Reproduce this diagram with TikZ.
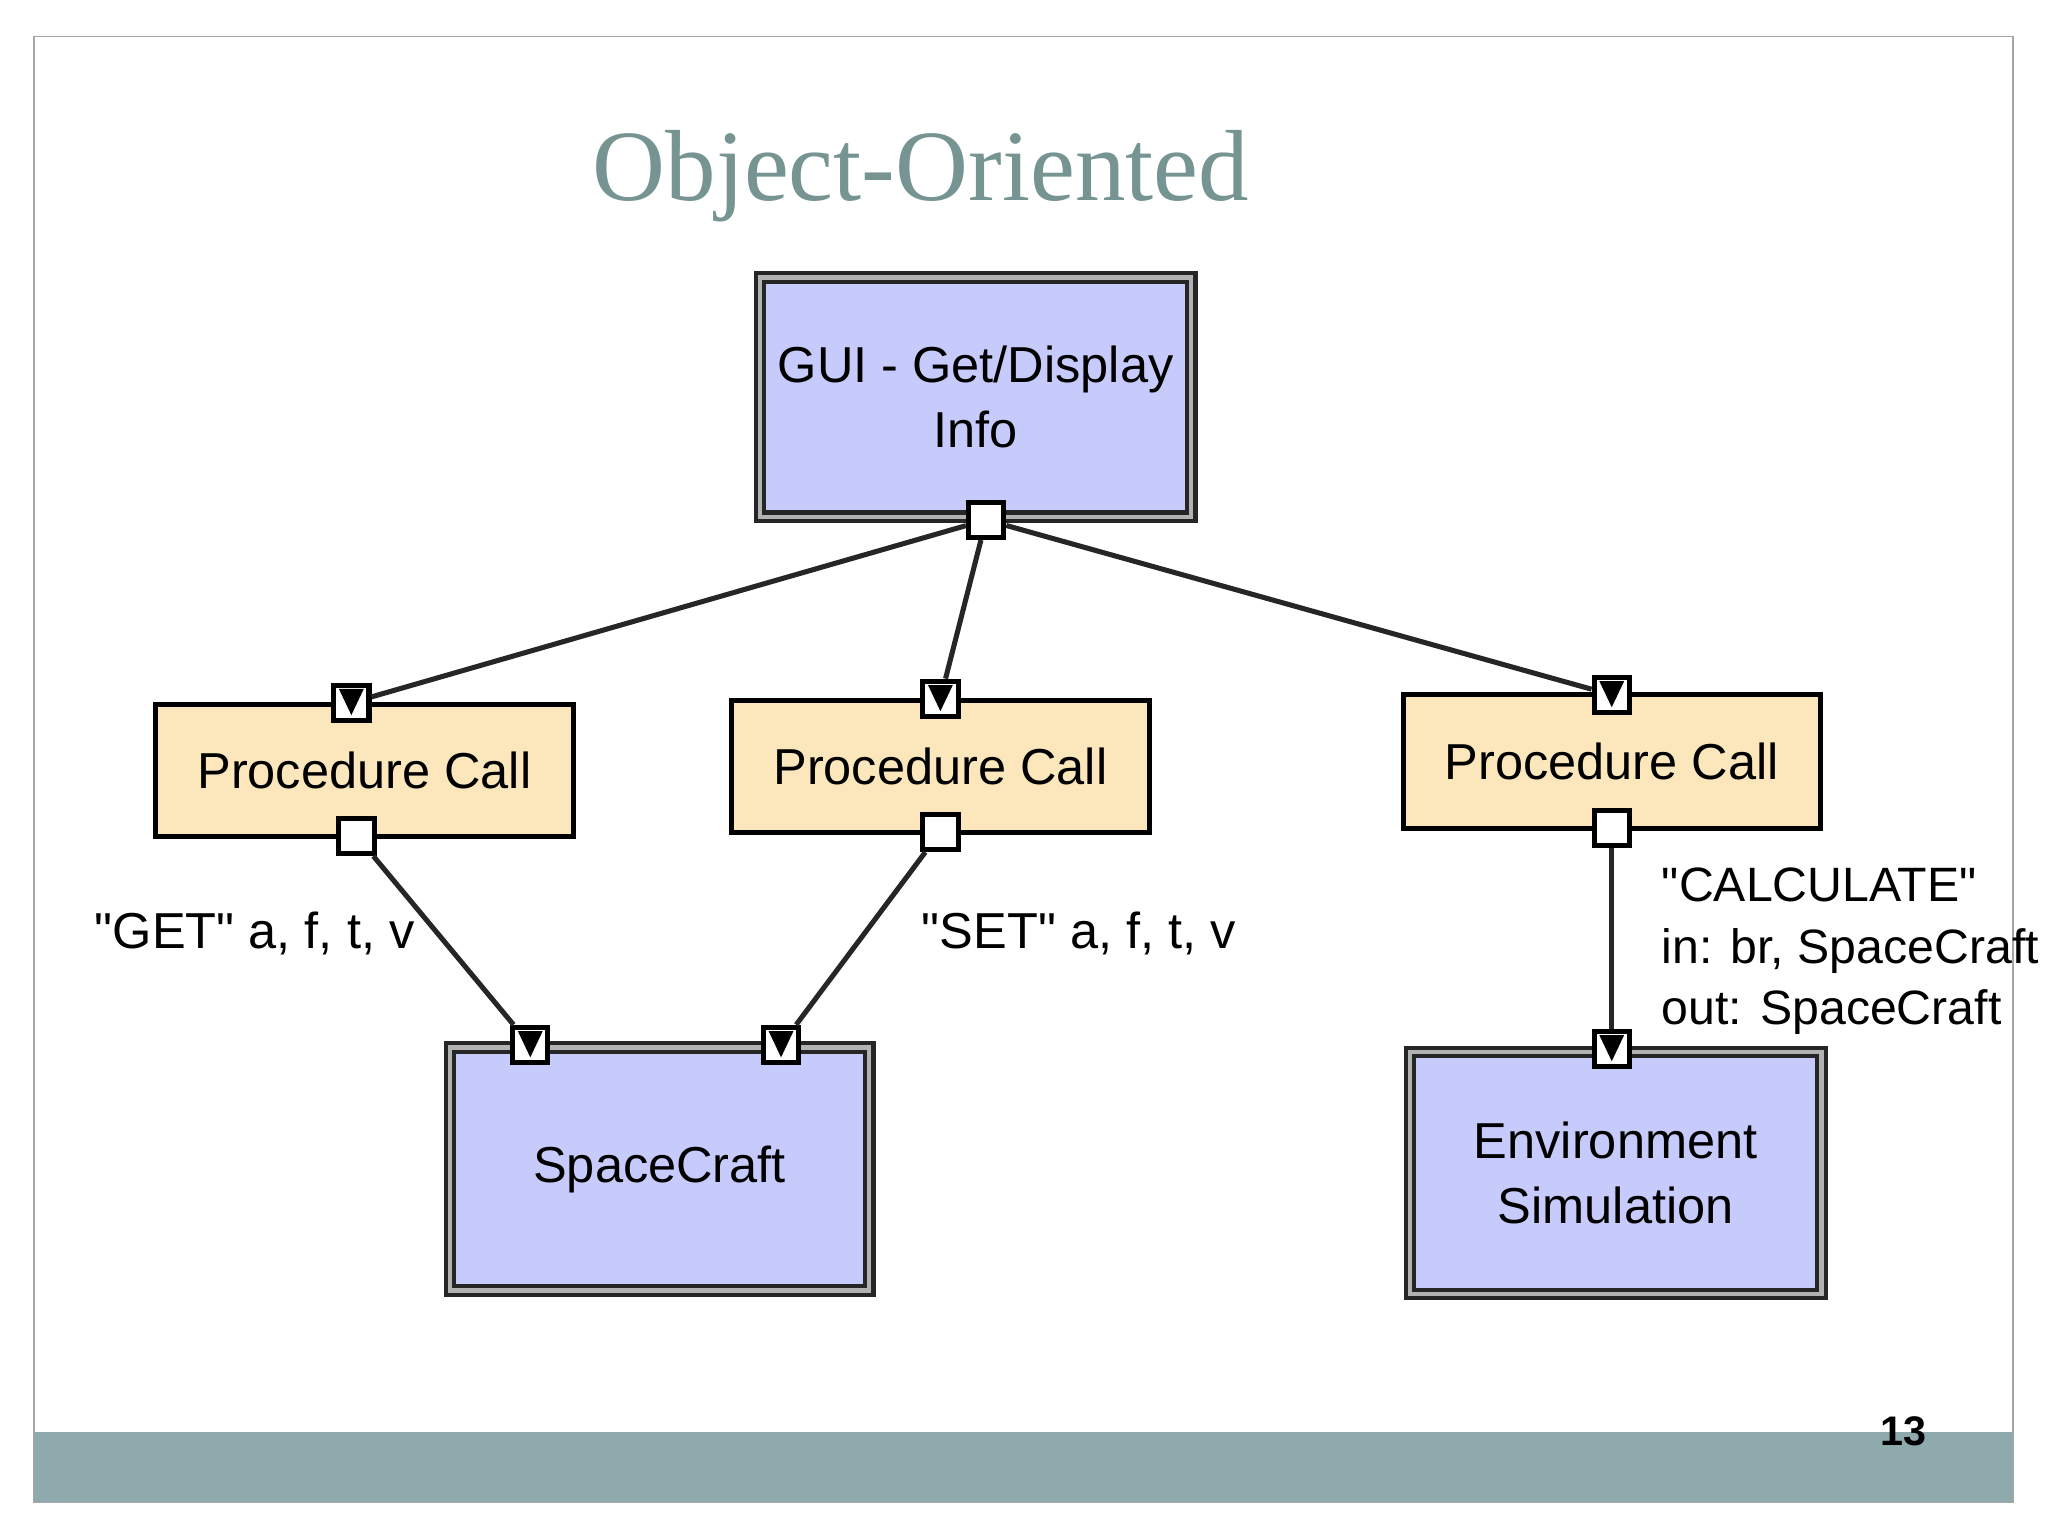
\documentclass[tikz,border=0pt]{standalone}
\usepackage{fontspec}
\setmainfont{Liberation Sans}
\newfontfamily\plainsans{Liberation Sans}
\newfontfamily\titlefont{Liberation Serif}
\definecolor{boxblue}{RGB}{199,203,251}
\definecolor{boxtan}{RGB}{251,231,187}
\definecolor{titlegrey}{RGB}{118,148,146}
\definecolor{bargrey}{RGB}{143,170,172}
\begin{document}
\begin{tikzpicture}[x=0.01cm, y=-0.01cm,
        module/.style={rectangle, draw=black!85, fill=boxblue, line width=0.9pt, double=black!30, double distance=0.9pt, align=center, font=\fontsize{11}{14}\selectfont},
        proc/.style={rectangle, draw=black, fill=boxtan, line width=1.1pt, font=\fontsize{11}{13}\selectfont},
        outport/.style={rectangle, draw=black, fill=white, line width=1.1pt, minimum size=0.27cm, inner sep=0pt},
        inport/.style={outport, path picture={\fill[black] ([xshift=0.04cm,yshift=-0.03cm]path picture bounding box.north west) -- ([xshift=-0.04cm,yshift=-0.03cm]path picture bounding box.north east) -- ([yshift=0.04cm]path picture bounding box.south) -- cycle;}},
        lbl/.style={font=\plainsans\fontsize{11}{13}\selectfont, align=left},
        link/.style={line width=1.1pt, black!85}]

        % Slide frame
        \useasboundingbox (0,0) rectangle (1568,1176);
        \fill[white] (0,0) rectangle (1568,1176);
        \draw[black!35] (26,28) rectangle (1541,1150);
        \fill[bargrey] (26,1096) rectangle (1541,1150);
        \node[font=\bfseries\fontsize{9}{10}\selectfont] (page) at (1457,1096) {13};
        \node[font=\titlefont\fontsize{22}{26}\selectfont, text=titlegrey] (title) at (705,135) {Object-Oriented};

        % Modules
        \node[module, minimum width=3.3cm, minimum height=1.83cm] (gui) at (747,304) {GUI - Get/Display\\Info};
        \node[module, minimum width=3.21cm, minimum height=1.86cm] (sc) at (505,895) {SpaceCraft};
        \node[module, minimum width=3.15cm, minimum height=1.85cm] (env) at (1237,898) {Environment\\Simulation};
        % Procedure calls
        \node[proc, minimum width=3.2cm, minimum height=1.01cm] (pc1) at (279,590) {Procedure Call};
        \node[proc, minimum width=3.2cm, minimum height=1.01cm] (pc2) at (720,587) {Procedure Call};
        \node[proc, minimum width=3.19cm, minimum height=1.02cm] (pc3) at (1234,583) {Procedure Call};

        % Ports
        \node[outport] (guiout) at (755,398) {};
        \node[inport] (pc1in) at (269,538) {};
        \node[inport] (pc2in) at (720,535) {};
        \node[inport] (pc3in) at (1234,532) {};
        \node[outport] (pc1out) at (273,640) {};
        \node[outport] (pc2out) at (720,637) {};
        \node[outport] (pc3out) at (1234,634) {};
        \node[inport] (scin1) at (406,800) {};
        \node[inport] (scin2) at (598,800) {};
        \node[inport] (envin) at (1234,803) {};

        % Links
        \draw[link] (guiout) -- (pc1in);
        \draw[link] (guiout) -- (pc2in);
        \draw[link] (guiout) -- (pc3in);
        \draw[link] (pc1out) -- (scin1);
        \draw[link] (pc2out) -- (scin2);
        \draw[link] (pc3out) -- (envin);

        % Labels
        \node[lbl] (getlbl) at (195,715) {"GET" a, f, t, v};
        \node[lbl] (setlbl) at (826,715) {"SET" a, f, t, v};
        \node[lbl, anchor=north west, font=\plainsans\fontsize{10.5}{13.4}\selectfont] (calclbl) at (1260,652) {"CALCULATE"\\in: br, SpaceCraft\\out: SpaceCraft};
\end{tikzpicture}
\end{document}
